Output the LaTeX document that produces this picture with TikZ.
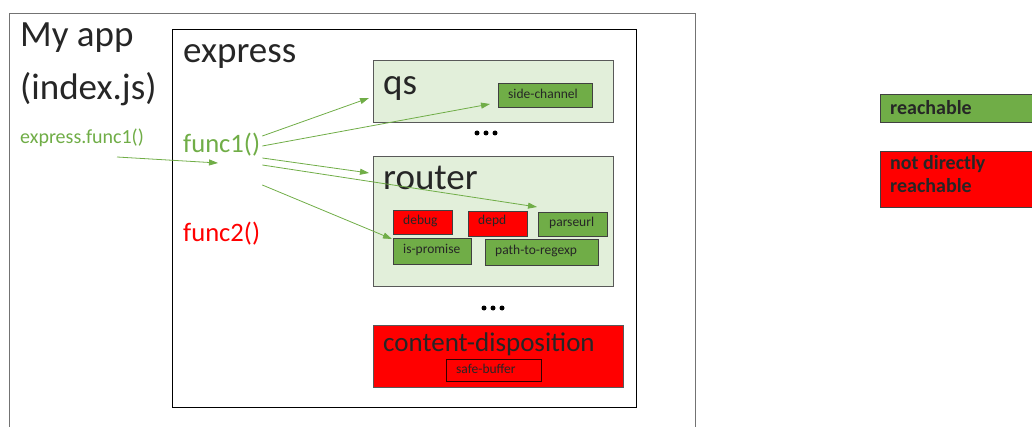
\documentclass[tikz,border=0pt]{standalone}
\usepackage{fontspec}
\setmainfont{Carlito}
\usetikzlibrary{arrows.meta}
\definecolor{okgreen}{HTML}{70AD47}
\definecolor{palegreen}{HTML}{E2EFDA}
\definecolor{badred}{HTML}{FF0000}
\definecolor{edgegray}{HTML}{595959}
\tikzset{
  pkg/.style={draw=edgegray, line width=0.8pt, fill=palegreen},
  okbox/.style={draw=black!75, line width=0.8pt, fill=okgreen},
  badbox/.style={draw=black!75, line width=0.8pt, fill=badred},
  lbl/.style={anchor=base west, inner sep=0pt, text=black!85},
  big/.style={lbl, font=\fontsize{37}{44}\selectfont},
  small/.style={lbl, font=\fontsize{13.5}{16}\selectfont},
  call/.style={draw=okgreen, line width=0.8pt, -{Triangle[length=9pt, width=6pt]}},
  dotdot/.style={fill=black, draw=none, circle, inner sep=0pt, minimum size=5pt}
}
\begin{document}
\begin{tikzpicture}[x=1pt, y=-1pt]
\useasboundingbox (0,0) rectangle (1032,427);

% application and express frames
\draw[draw=black!55, line width=0.8pt] (9,13) rectangle (695,440);
\draw[draw=black, line width=0.8pt] (172,29) rectangle (636,407);

\node[big] (myapp) at (20,47) {My app};
\node[big] (index) at (20,100) {(index.js)};
\node[lbl, text=okgreen, font=\fontsize{20}{24}\selectfont] (ecall) at (20,144) {express.func1()};
\coordinate (ecallend) at (117,157);

\node[big] (express) at (183,63) {express};
\node[lbl, text=okgreen, font=\fontsize{26.6}{32}\selectfont] (func1) at (183,153) {func1()};
\node[lbl, text=badred, font=\fontsize{26.6}{32}\selectfont] (func2) at (183,242) {func2()};

% qs package
\draw[pkg] (373,60) rectangle (613,122);
\node[big] (qs) at (383,95) {qs};
\draw[okbox] (498,83) rectangle (592,107);
\node[small] (sidech) at (508,99) {side-channel};
\node[dotdot] (qd1) at (477,133) {};
\node[dotdot] (qd2) at (486,133) {};
\node[dotdot] (qd3) at (495,133) {};

% router package
\draw[pkg] (373,156) rectangle (613,286);
\node[big] (router) at (383,190) {router};
\draw[badbox] (393,210) rectangle (452,234);
\node[small] (debug) at (403,225) {debug};
\draw[badbox] (468,211) rectangle (527,236);
\node[small] (depd) at (478,225) {depd};
\draw[okbox] (538,212) rectangle (607,236);
\node[small] (parseurl) at (549,227) {parseurl};
\draw[okbox] (393,238) rectangle (471,264);
\node[small] (ispromise) at (403,254) {is-promise};
\draw[okbox] (485,239) rectangle (598,265);
\node[small] (pathre) at (495,255) {path-to-regexp};
\node[dotdot] (rd1) at (484,308) {};
\node[dotdot] (rd2) at (493,308) {};
\node[dotdot] (rd3) at (502,308) {};

% content-disposition package
\draw[badbox, draw=edgegray] (373,325) rectangle (623,387);
\node[lbl, font=\fontsize{27}{32}\selectfont] (cdisp) at (383,351) {content-disposition};
\draw[badbox, draw=black!80!red] (446,359) rectangle (541,381);
\node[small] (safebuf) at (456,373) {safe-buffer};

% call edges
\coordinate (f1in) at (218,163);
\coordinate (qsin) at (369,98);
\coordinate (scin) at (490,104);
\coordinate (rtin) at (369,173);
\coordinate (puin) at (537,207);
\coordinate (ipin) at (392,239);
\draw[call] (ecallend) -- (f1in);
\draw[call] ([xshift=2pt]func1.east |- 0,136) -- (qsin);
\draw[call] ([xshift=2pt]func1.east |- 0,146) -- (scin);
\draw[call] ([xshift=2pt]func1.east |- 0,158) -- (rtin);
\draw[call] ([xshift=2pt]func1.east |- 0,165) -- (puin);
\draw[call] ([xshift=2pt]func1.east |- 0,185) -- (ipin);

% legend
\draw[okbox] (880,94) rectangle (1040,122);
\node[lbl, font=\fontsize{20}{24}\selectfont\bfseries] (legok) at (890,115) {reachable};
\draw[badbox] (880,151) rectangle (1040,207);
\node[lbl, font=\fontsize{20}{24}\selectfont\bfseries] (legbad1) at (890,170) {not directly};
\node[lbl, font=\fontsize{20}{24}\selectfont\bfseries] (legbad2) at (890,193) {reachable};
\end{tikzpicture}
\end{document}
